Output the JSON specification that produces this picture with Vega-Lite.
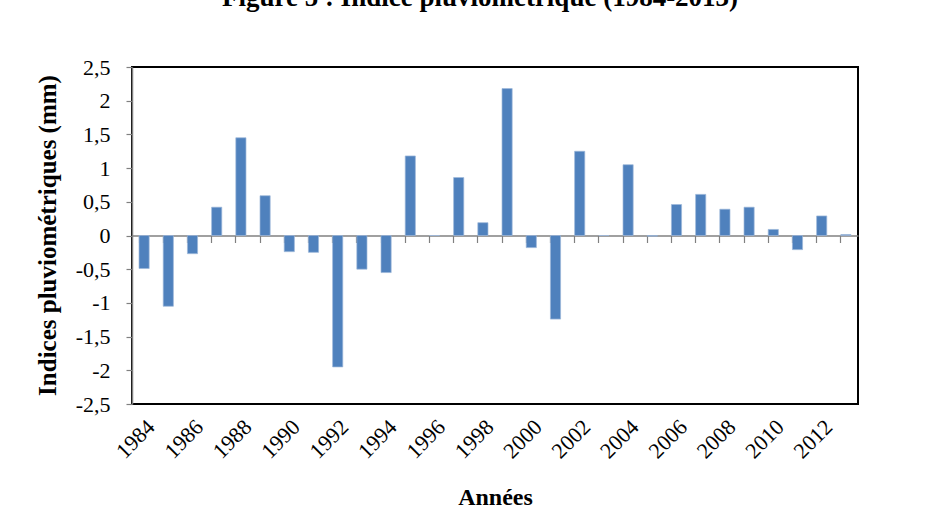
{
  "$schema": "https://vega.github.io/schema/vega-lite/v6.json",
  "width": 726,
  "height": 337,
  "autosize": {"type": "none"},
  "padding": {"left": 132, "top": 67, "right": 86, "bottom": 106},
  "background": "white",
  "title": {
    "text": "Figure 5 : Indice pluviométrique (1984-2013)",
    "font": "Liberation Serif",
    "fontSize": 27,
    "fontWeight": "bold",
    "color": "black",
    "anchor": "middle",
    "frame": "group",
    "dx": -15,
    "offset": 23,
    "baseline": "alphabetic"
  },
  "data": {
    "values": [
      {"annee": "1984", "indice": -0.49},
      {"annee": "1985", "indice": -1.05},
      {"annee": "1986", "indice": -0.27},
      {"annee": "1987", "indice": 0.42},
      {"annee": "1988", "indice": 1.45},
      {"annee": "1989", "indice": 0.59},
      {"annee": "1990", "indice": -0.24},
      {"annee": "1991", "indice": -0.25},
      {"annee": "1992", "indice": -1.95},
      {"annee": "1993", "indice": -0.5},
      {"annee": "1994", "indice": -0.55},
      {"annee": "1995", "indice": 1.18},
      {"annee": "1996", "indice": 0},
      {"annee": "1997", "indice": 0.86},
      {"annee": "1998", "indice": 0.19},
      {"annee": "1999", "indice": 2.18},
      {"annee": "2000", "indice": -0.18},
      {"annee": "2001", "indice": -1.24},
      {"annee": "2002", "indice": 1.25},
      {"annee": "2003", "indice": 0},
      {"annee": "2004", "indice": 1.05},
      {"annee": "2005", "indice": -0.01},
      {"annee": "2006", "indice": 0.46},
      {"annee": "2007", "indice": 0.61},
      {"annee": "2008", "indice": 0.39},
      {"annee": "2009", "indice": 0.42},
      {"annee": "2010", "indice": 0.09},
      {"annee": "2011", "indice": -0.21},
      {"annee": "2012", "indice": 0.29},
      {"annee": "2013", "indice": 0.015}
    ]
  },
  "resolve": {"axis": {"x": "independent"}},
  "layer": [
    {
      "mark": {"type": "bar", "opacity": 0},
      "encoding": {
        "x": {
          "field": "annee",
          "type": "ordinal",
          "sort": null,
          "scale": {"paddingInner": 0.58, "paddingOuter": 0.29},
          "axis": {
            "orient": "bottom",
            "offset": -168.5,
            "labels": false,
            "title": null,
            "bandPosition": 0,
            "domainColor": "#808080",
            "domainWidth": 1.5,
            "tickColor": "#808080",
            "tickSize": 7,
            "tickWidth": 1.2
          }
        }
      }
    },
    {
      "mark": {"type": "bar", "color": "#4F81BD", "stroke": "#9DB8DA", "strokeWidth": 0.7},
      "encoding": {
        "x": {
          "field": "annee",
          "type": "ordinal",
          "sort": null,
          "axis": {
            "orient": "bottom",
            "values": ["1984","1986","1988","1990","1992","1994","1996","1998","2000","2002","2004","2006","2008","2010","2012"],
            "labelAngle": -45,
            "labelFont": "Liberation Serif",
            "labelFontSize": 22,
            "labelColor": "black",
            "labelPadding": 12,
            "labelOverlap": false,
            "ticks": false,
            "domain": false,
            "title": "Années",
            "titleFont": "Liberation Serif",
            "titleFontSize": 24,
            "titleFontWeight": "bold",
            "titleColor": "black",
            "titleBaseline": "middle",
            "titleY": 93
          }
        },
        "y": {
          "field": "indice",
          "type": "quantitative",
          "scale": {"domain": [-2.5, 2.5], "nice": false},
          "axis": {
            "values": [-2.5, -2, -1.5, -1, -0.5, 0, 0.5, 1, 1.5, 2, 2.5],
            "format": "~g",
            "grid": false,
            "labelOverlap": false,
            "labelBound": false,
            "domainColor": "#808080",
            "domainWidth": 1.5,
            "tickColor": "#808080",
            "tickSize": 6,
            "tickWidth": 1.2,
            "labelFont": "Liberation Serif",
            "labelFontSize": 22,
            "labelColor": "black",
            "labelPadding": 16,
            "title": "Indices pluviométriques (mm)",
            "titleFont": "Liberation Serif",
            "titleFontSize": 25,
            "titleFontWeight": "bold",
            "titleColor": "black",
            "titleAngle": -90,
            "titleBaseline": "middle",
            "titleAlign": "center",
            "titleX": -85,
            "titleY": 168
          }
        }
      }
    }
  ],
  "config": {
    "view": {"stroke": "black", "strokeWidth": 2},
    "locale": {
      "number": {"decimal": ",", "thousands": " ", "grouping": [3], "currency": ["", " €"], "minus": "-"}
    }
  }
}
